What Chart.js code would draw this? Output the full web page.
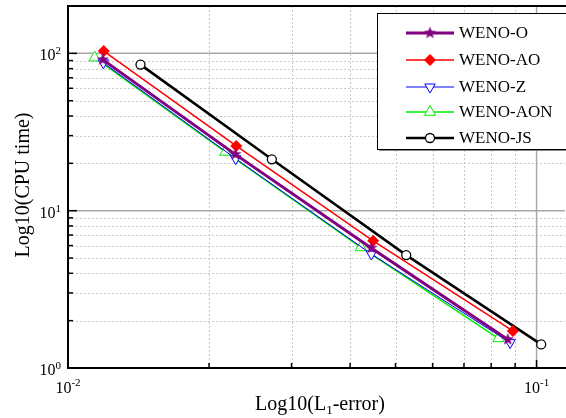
<!DOCTYPE html>
<html>
<head>
<meta charset="utf-8">
<script src="https://cdn.jsdelivr.net/npm/chart.js@4.4.0/dist/chart.umd.min.js"></script>
<style>
  html, body { margin: 0; padding: 0; background: #fff; }
  #wrap { width: 566px; height: 418px; }
</style>
</head>
<body>
<div id="wrap"><canvas id="myChart" width="566" height="418"></canvas></div>
<script>
// series (L1 error, CPU time)
const seriesNames = ['WENO-O', 'WENO-AO', 'WENO-Z', 'WENO-AON', 'WENO-JS'];
const errO = [0.01186, 0.02276, 0.04437, 0.0868];
const cpuO = [91.2, 22.8, 5.8, 1.52];
const errAO = [0.01192, 0.02286, 0.0448, 0.089];
const cpuAO = [103.4, 25.8, 6.43, 1.72];
const errZ = [0.0119, 0.0228, 0.0444, 0.0878];
const cpuZ = [87, 21.4, 5.3, 1.45];
const errAON = [0.0114, 0.02166, 0.04217, 0.0829];
const cpuAON = [93.9, 23.6, 5.84, 1.543];
const errJS = [0.01428, 0.02723, 0.0527, 0.1023];
const cpuJS = [84.8, 21.2, 5.22, 1.413];

// axes
const xMin = 0.01, xMax = 0.115;
const yMin = 1, yMax = 200;
const xMajorTicks = [0.01, 0.1];
const xMajorExps = ['-2', '-1'];
const xMinorTicks = [0.02, 0.03, 0.04, 0.05, 0.06, 0.07, 0.08, 0.09];
const yMajorTicks = [1, 10, 100];
const yMajorExps = ['0', '1', '2'];
const yMinorTicks = [2, 3, 4, 5, 6, 7, 8, 9, 20, 30, 40, 50, 60, 70, 80, 90];

const serif = '"Liberation Serif", "Times New Roman", serif';

function makeStar(r, color) {
  const c = document.createElement('canvas');
  const s = Math.ceil(r * 2 + 2);
  c.width = s;
  c.height = s;
  const g = c.getContext('2d');
  g.fillStyle = color;
  g.beginPath();
  for (let i = 0; i < 10; i++) {
    const rr = i % 2 === 0 ? r : r * 0.42;
    const a = -Math.PI / 2 + i * Math.PI / 5;
    g.lineTo(s / 2 + rr * Math.cos(a), s / 2 + rr * Math.sin(a));
  }
  g.closePath();
  g.fill();
  return c;
}

const starImg = makeStar(6.5, '#800080');

function pts(xs, ys) {
  return xs.map(function(x, i) { return { x: x, y: ys[i] }; });
}

const styles = [
  { color: '#800080', width: 3, point: starImg, radius: 6, rot: 0, bg: '#800080', bw: 0 },
  { color: '#ff0000', width: 1.5, point: 'rectRot', radius: 6, rot: 0, bg: '#ff0000', bw: 0 },
  { color: '#0000ff', width: 1, point: 'triangle', radius: 6, rot: 180, bg: '#ffffff', bw: 1 },
  { color: '#00ee00', width: 1.5, point: 'triangle', radius: 6.5, rot: 0, bg: '#ffffff', bw: 1 },
  { color: '#000000', width: 2.5, point: 'circle', radius: 4.5, rot: 0, bg: '#ffffff', bw: 1.3 }
];
const seriesData = [
  pts(errO, cpuO), pts(errAO, cpuAO), pts(errZ, cpuZ), pts(errAON, cpuAON), pts(errJS, cpuJS)
];

const datasets = seriesNames.map(function(name, i) {
  const s = styles[i];
  return {
    label: name,
    data: seriesData[i],
    borderColor: s.color,
    borderWidth: s.width,
    pointStyle: s.point,
    pointRadius: s.radius,
    pointRotation: s.rot,
    pointBackgroundColor: s.bg,
    pointBorderColor: s.color,
    pointBorderWidth: s.bw,
    tension: 0,
    fill: false
  };
});

function drawPow(ctx, exp, x, baseY, supY, align) {
  ctx.font = '16px ' + serif;
  const wb = ctx.measureText('10').width;
  ctx.font = '11px ' + serif;
  const we = ctx.measureText(exp).width;
  const left = align === 'right' ? x - wb - we : x - (wb + we) / 2;
  ctx.textAlign = 'left';
  ctx.textBaseline = 'alphabetic';
  ctx.font = '16px ' + serif;
  ctx.fillText('10', left, baseY);
  ctx.font = '11px ' + serif;
  ctx.fillText(exp, left + wb, supY);
}

const framePlugin = {
  id: 'frame',
  beforeDatasetsDraw: function(chart) {
    const ctx = chart.ctx;
    const a = chart.chartArea;
    const xs = chart.scales.x;
    const ys = chart.scales.y;
    ctx.save();
    ctx.strokeStyle = '#c8c8c8';
    ctx.lineWidth = 1;
    ctx.setLineDash([2, 2]);
    xMinorTicks.forEach(function(v) {
      const px = Math.round(xs.getPixelForValue(v)) + 0.5;
      ctx.beginPath(); ctx.moveTo(px, a.top); ctx.lineTo(px, a.bottom); ctx.stroke();
    });
    yMinorTicks.forEach(function(v) {
      const py = Math.round(ys.getPixelForValue(v)) + 0.5;
      ctx.beginPath(); ctx.moveTo(a.left, py); ctx.lineTo(a.right, py); ctx.stroke();
    });
    ctx.setLineDash([]);
    ctx.strokeStyle = '#a8a8a8';
    ctx.lineWidth = 1.5;
    xMajorTicks.forEach(function(v) {
      const px = xs.getPixelForValue(v);
      ctx.beginPath(); ctx.moveTo(px, a.top); ctx.lineTo(px, a.bottom); ctx.stroke();
    });
    yMajorTicks.forEach(function(v) {
      const py = ys.getPixelForValue(v);
      ctx.beginPath(); ctx.moveTo(a.left, py); ctx.lineTo(a.right, py); ctx.stroke();
    });
    ctx.restore();
  },
  afterDatasetsDraw: function(chart) {
    const ctx = chart.ctx;
    const a = chart.chartArea;
    const xs = chart.scales.x;
    const ys = chart.scales.y;
    ctx.save();

    // frame
    ctx.strokeStyle = '#000';
    ctx.lineWidth = 2;
    ctx.beginPath();
    ctx.moveTo(566, a.top);
    ctx.lineTo(a.left, a.top);
    ctx.lineTo(a.left, a.bottom);
    ctx.lineTo(566, a.bottom);
    ctx.stroke();

    // inner ticks
    ctx.lineWidth = 1.5;
    yMinorTicks.forEach(function(v) {
      const py = ys.getPixelForValue(v);
      ctx.beginPath(); ctx.moveTo(a.left, py); ctx.lineTo(a.left + 5, py); ctx.stroke();
    });
    yMajorTicks.forEach(function(v) {
      const py = ys.getPixelForValue(v);
      ctx.beginPath(); ctx.moveTo(a.left, py); ctx.lineTo(a.left + 9, py); ctx.stroke();
    });
    xMinorTicks.forEach(function(v) {
      const px = xs.getPixelForValue(v);
      ctx.beginPath(); ctx.moveTo(px, a.bottom); ctx.lineTo(px, a.bottom - 5); ctx.stroke();
    });
    xMajorTicks.forEach(function(v) {
      const px = xs.getPixelForValue(v);
      ctx.beginPath(); ctx.moveTo(px, a.bottom); ctx.lineTo(px, a.bottom - 8); ctx.stroke();
    });

    // tick labels
    ctx.fillStyle = '#000';
    yMajorTicks.forEach(function(v, i) {
      const py = ys.getPixelForValue(v);
      drawPow(ctx, yMajorExps[i], a.left - 7, py + 7, py + 1, 'right');
    });
    xMajorTicks.forEach(function(v, i) {
      const px = xs.getPixelForValue(v);
      drawPow(ctx, xMajorExps[i], px, a.bottom + 25, a.bottom + 18, 'center');
    });

    // axis titles
    ctx.font = '20px ' + serif;
    ctx.textAlign = 'center';
    ctx.textBaseline = 'middle';
    ctx.save();
    ctx.translate(24, 185);
    ctx.rotate(-Math.PI / 2);
    ctx.fillText('Log10(CPU time)', 0, 0);
    ctx.restore();

    const t1 = 'Log10(L', t2 = '1', t3 = '-error)';
    ctx.textAlign = 'left';
    ctx.textBaseline = 'alphabetic';
    ctx.font = '20px ' + serif;
    const w1 = ctx.measureText(t1).width;
    const w3 = ctx.measureText(t3).width;
    ctx.font = '13px ' + serif;
    const w2 = ctx.measureText(t2).width;
    let tx = 320 - (w1 + w2 + w3) / 2;
    ctx.font = '20px ' + serif;
    ctx.fillText(t1, tx, 410);
    ctx.font = '13px ' + serif;
    ctx.fillText(t2, tx + w1, 414);
    ctx.font = '20px ' + serif;
    ctx.fillText(t3, tx + w1 + w2, 410);

    // legend
    const bx = 377, by = 13, bw = 192, bh = 136;
    ctx.fillStyle = '#888';
    ctx.fillRect(bx + 2, by + 2, bw, bh);
    ctx.fillStyle = '#fff';
    ctx.fillRect(bx, by, bw, bh);
    ctx.strokeStyle = '#000';
    ctx.lineWidth = 1;
    ctx.strokeRect(bx + 0.5, by + 0.5, bw, bh);
    const rowY = [33, 60, 87, 112, 138];
    seriesNames.forEach(function(name, i) {
      const s = styles[i];
      const y = rowY[i];
      ctx.strokeStyle = s.color;
      ctx.lineWidth = s.width;
      ctx.beginPath(); ctx.moveTo(406, y); ctx.lineTo(454, y); ctx.stroke();
      ctx.fillStyle = s.bg;
      ctx.strokeStyle = s.color;
      ctx.lineWidth = s.bw;
      Chart.helpers.drawPoint(ctx, {
        pointStyle: s.point, radius: s.radius, rotation: s.rot, borderWidth: s.bw
      }, 430, y);
      ctx.fillStyle = '#000';
      ctx.font = '17px ' + serif;
      ctx.textAlign = 'left';
      ctx.textBaseline = 'middle';
      ctx.fillText(name, 459, y + 1);
    });

    ctx.restore();
  }
};

const chart = new Chart(document.getElementById('myChart').getContext('2d'), {
  type: 'line',
  data: { datasets: datasets },
  options: {
    responsive: false,
    devicePixelRatio: 1,
    animation: false,
    layout: { autoPadding: false, padding: { left: 68, top: 6, right: 1, bottom: 50 } },
    scales: {
      x: { type: 'logarithmic', min: xMin, max: xMax, display: false },
      y: { type: 'logarithmic', min: yMin, max: yMax, display: false }
    },
    plugins: {
      legend: { display: false },
      tooltip: { enabled: false }
    }
  },
  plugins: [framePlugin]
});
</script>
</body>
</html>
